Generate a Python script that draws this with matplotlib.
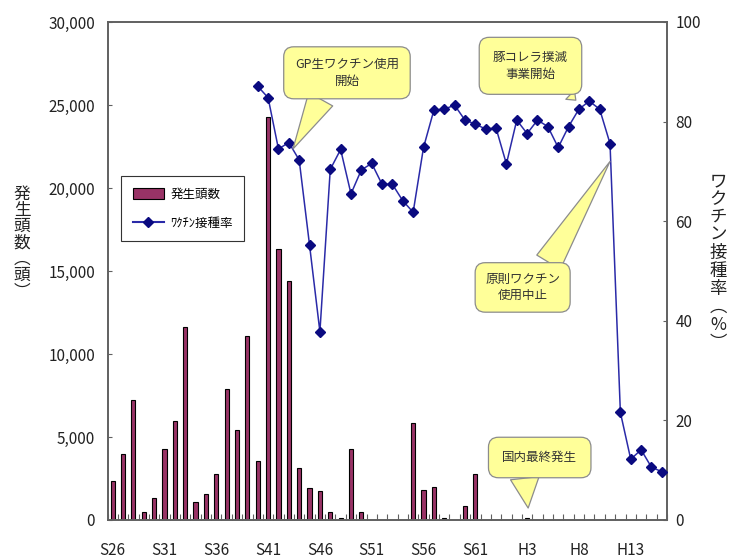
import numpy as np
import matplotlib
matplotlib.use('Agg')
from matplotlib import pyplot as plt
from matplotlib.lines import Line2D
from matplotlib.patches import Patch
from matplotlib.ticker import FuncFormatter

plt.rcParams['font.family'] = ['Noto Sans CJK JP', 'DejaVu Sans']

# years: S26..S63 then H1..H16
years = ['S%d' % y for y in range(26, 64)] + ['H%d' % y for y in range(1, 17)]

# 発生頭数
cases = [2350, 4000, 7200, 500, 1300, 4300, 5950, 11600, 1100, 1550,
         2750, 7900, 5450, 11100, 3550, 24300, 16300, 14400, 3150, 1950,
         1750, 500, 100, 4300, 500, 0, 0, 0, 0, 5850,
         1800, 2000, 150, 0, 850, 2800, 0, 0, 0, 0,
         100, 0, 0, 0, 0, 0, 0, 0, 0, 0,
         0, 0, 0, 0]

# ワクチン接種率 (starts S40)
rate = [None] * 14 + [87.1, 84.8, 74.5, 75.8, 72.3, 55.2, 37.8, 70.4, 74.4, 65.5,
                      70.3, 71.6, 67.4, 67.4, 64.1, 61.8, 74.8, 82.3, 82.5, 83.3,
                      80.3, 79.5, 78.5, 78.7, 71.5, 80.3, 77.6, 80.3, 79.0, 74.8,
                      79.0, 82.5, 84.1, 82.5, 75.6, 21.6, 12.2, 14.1, 10.6, 9.7]

x = np.arange(len(years))
rate = np.array([np.nan if r is None else r for r in rate], dtype=float)

W, H = 734, 559
fig = plt.figure(figsize=(W / 100, H / 100), dpi=100)
ax = fig.add_axes([107.5 / W, 39 / H, 559.5 / W, 498 / H])

bar_c = '#993366'
ax.bar(x, cases, width=0.4, color=bar_c, edgecolor='black', linewidth=0.8, zorder=2)
ax.set_xlim(-0.5, len(years) - 0.5)
ax.set_ylim(0, 30000)
ax.set_yticks(np.arange(0, 30001, 5000))
ax.yaxis.set_major_formatter(FuncFormatter(lambda v, p: '{:,}'.format(int(v))))

lab_idx = x[::5]
ax.set_xticks(lab_idx)
ax.set_xticklabels([years[i] for i in lab_idx])
ax.set_xticks(np.arange(-0.5, len(years)), minor=True)
ax.tick_params(axis='x', which='major', length=0, pad=16, labelsize=11, colors='#222222')
ax.tick_params(axis='x', which='minor', direction='in', length=4.5, width=0.8, color='#606060')
ax.tick_params(axis='y', direction='in', length=3, width=0.8, color='#606060',
               labelsize=11, labelcolor='#222222', pad=9)
for s in ax.spines.values():
    s.set_color('#606060')
    s.set_linewidth(1.2)

ax2 = ax.twinx()
ax2.plot(x, rate, color='#2a2aa8', linewidth=1.1, marker='D', markersize=5.5,
         markerfacecolor='#0a0a80', markeredgecolor='#0a0a80', zorder=3)
ax2.set_ylim(0, 100)
ax2.set_yticks(np.arange(0, 101, 20))
ax2.tick_params(axis='y', direction='in', length=3, width=0.8, color='#606060',
                labelsize=11, labelcolor='#222222', pad=6)
for s in ax2.spines.values():
    s.set_color('#606060')
    s.set_linewidth(1.2)

# axis titles (vertical Japanese)
fig.text(22 / W, 1 - 243 / H, '\n'.join('発生頭数︵頭︶'), ha='center', va='center',
         fontsize=12, linespacing=0.95, color='#222222')
fig.text(718 / W, 1 - 262 / H, '\n'.join('ワクチン接種率︵%︶'), ha='center', va='center',
         fontsize=12.5, linespacing=1.0, color='#222222')

# legend
handles = [Patch(facecolor=bar_c, edgecolor='black', linewidth=0.8),
           Line2D([], [], color='#2a2aa8', marker='D', markersize=5.5,
                  markerfacecolor='#0a0a80', markeredgecolor='#0a0a80')]
leg = ax2.legend(handles, ['発生頭数', 'ﾜｸﾁﾝ接種率'], loc='upper left',
                 bbox_to_anchor=(0.025, 0.69), fontsize=9, fancybox=False,
                 edgecolor='#333333', framealpha=1, borderpad=0.9, labelspacing=1.3,
                 handlelength=2.5, handleheight=0.9, handletextpad=0.5,
                 borderaxespad=0)
leg.get_frame().set_linewidth(0.8)

# callouts
yellow = '#ffff99'
edge = '#8c8c8c'


def callout(text, xy, xytext, relpos, tw, pad):
    ax2.annotate(text, xy=xy, xycoords='data', xytext=xytext, textcoords='axes fraction',
                 ha='center', va='center', fontsize=9, color='#333333', linespacing=1.35,
                 bbox=dict(boxstyle='round,pad=%s,rounding_size=0.8' % pad, fc=yellow,
                           ec=edge, lw=0.9),
                 arrowprops=dict(arrowstyle='wedge,tail_width=%s,shrink_factor=0.5' % tw,
                                 fc=yellow, ec=edge, lw=0.9, relpos=relpos,
                                 shrinkA=0, shrinkB=0),
                 zorder=6)


callout('GP生ワクチン使用\n開始', (17.4, 74.5), (0.428, 0.898), (0.31, 0.0), 2.2, 0.9)
callout('豚コレラ撲滅\n事業開始', (44.7, 84.3), (0.756, 0.912), (0.83, 0.0), 1.0, 1.1)
callout('原則ワクチン\n使用中止', (48.0, 72.0), (0.742, 0.467), (0.76, 1.0), 2.2, 0.8)
callout('国内最終発生', (40.1, 2.4), (0.7725, 0.1255), (0.28, 0.0), 2.3, 1.1)

fig.savefig('out.png', dpi=100)
